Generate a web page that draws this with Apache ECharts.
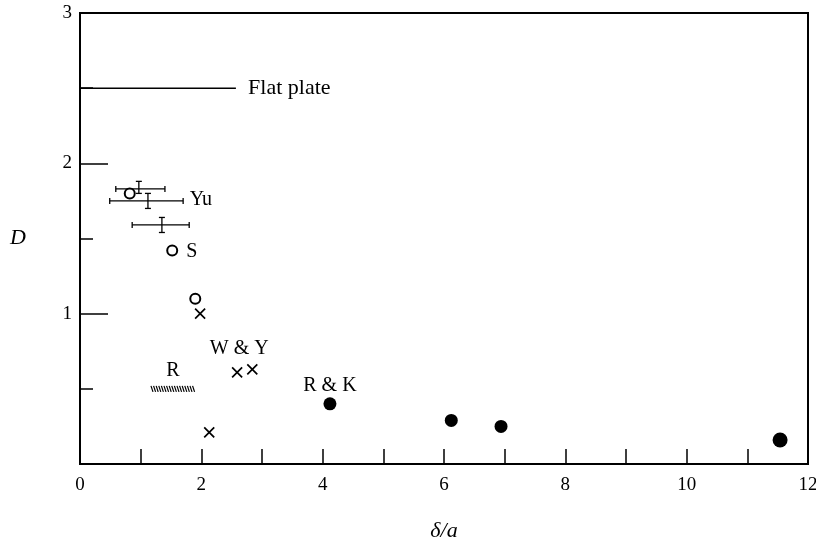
<!DOCTYPE html>
<html>
<head>
<meta charset="utf-8">
<script src="https://cdn.jsdelivr.net/npm/echarts@6/dist/echarts.min.js"></script>
<style>html,body{margin:0;padding:0;background:#fff}#c{width:816px;height:539px}</style>
</head>
<body>
<div id="c"></div>
<script>
// ---- data ----
const xTicks = [0, 2, 4, 6, 8, 10, 12];
const yTicks = [1, 2, 3];
// Yu: error-bar points [x, y, xLo, xHi, yLo, yHi]
const yuErr = [
  [0.97, 1.83, 0.59, 1.40, 1.80, 1.88],
  [1.12, 1.75, 0.49, 1.70, 1.70, 1.80],
  [1.35, 1.59, 0.86, 1.80, 1.54, 1.64]
];
// open circles
const openX = [0.82, 1.52, 1.90];
const openY = [1.80, 1.42, 1.10];
// crosses (W & Y)
const crossX = [1.98, 2.59, 2.84, 2.13];
const crossY = [1.00, 0.61, 0.63, 0.21];
// filled circles (R & K)
const filledX = [4.12, 6.12, 6.94, 11.54];
const filledY = [0.40, 0.29, 0.25, 0.16];
const filledSize = [13, 13, 13, 15];
// R hatched range [xStart, y, xEnd]
const rRange = [[1.17, 0.50, 1.90]];
// flat plate line
const flatX = [0, 2.57];
const flatY = 2.5;
// text labels [x, y, text, fontSize]
const labels = [
  [2.77, 2.50, 'Flat plate', 22],
  [1.81, 1.76, 'Yu', 20],
  [1.75, 1.41, 'S', 20],
  [2.14, 0.765, 'W & Y', 20],
  [1.42, 0.62, 'R', 20],
  [3.68, 0.52, 'R & K', 20]
];

const serif = 'Liberation Serif';
const chart = echarts.init(document.getElementById('c'), null, {renderer: 'canvas'});

const crossPath = 'path://M0,0L10,10M10,0L0,10';

chart.setOption({
  animation: false,
  backgroundColor: '#fff',
  grid: {left: 80, right: 8, top: 13, bottom: 75, outerBoundsMode: 'none', containLabel: false,
    show: true, borderColor: '#000', borderWidth: 2, backgroundColor: 'transparent'},
  xAxis: {
    type: 'value', min: 0, max: 12, interval: 1,
    name: 'δ/a', nameLocation: 'middle', nameGap: 56,
    nameTextStyle: {fontFamily: serif, fontStyle: 'italic', fontSize: 22, color: '#000'},
    axisLine: {lineStyle: {color: '#000', width: 2}},
    axisTick: {inside: true, length: 15, lineStyle: {color: '#000', width: 1.5}},
    axisLabel: {margin: 12, fontFamily: serif, fontSize: 19, color: '#000',
      formatter: v => xTicks.indexOf(v) >= 0 ? String(v) : ''},
    splitLine: {show: false}
  },
  yAxis: [{
    type: 'value', min: 0, max: 3, interval: 1,
    name: 'D', nameLocation: 'middle', nameGap: 54, nameRotate: 0,
    nameTextStyle: {fontFamily: serif, fontStyle: 'italic', fontSize: 22, color: '#000'},
    axisLine: {lineStyle: {color: '#000', width: 2}},
    axisTick: {inside: true, length: 28, lineStyle: {color: '#000', width: 1.5}},
    axisLabel: {margin: 8, fontFamily: serif, fontSize: 19, color: '#000',
      formatter: v => yTicks.indexOf(v) >= 0 ? String(v) : ''},
    splitLine: {show: false}
  }, {
    type: 'value', min: 0, max: 3, interval: 0.5, position: 'left',
    axisLine: {show: false},
    axisTick: {inside: true, length: 13, lineStyle: {color: '#000', width: 1.5}},
    axisLabel: {show: false},
    splitLine: {show: false}
  }],
  series: [
    {
      type: 'line', data: flatX.map(x => [x, flatY]), symbol: 'none',
      lineStyle: {color: '#000', width: 1.5}, silent: true
    },
    {
      type: 'custom', data: yuErr,
      renderItem: function (params, api) {
        const x = api.value(0), y = api.value(1);
        const h0 = api.coord([api.value(2), y]);
        const h1 = api.coord([api.value(3), y]);
        const v0 = api.coord([x, api.value(4)]);
        const v1 = api.coord([x, api.value(5)]);
        const st = {stroke: '#000', lineWidth: 1.3};
        const c = 3;
        const L = (x1, y1, x2, y2) => ({type: 'line', shape: {x1, y1, x2, y2}, style: st});
        return {type: 'group', children: [
          L(h0[0], h0[1], h1[0], h1[1]),
          L(h0[0], h0[1] - c, h0[0], h0[1] + c),
          L(h1[0], h1[1] - c, h1[0], h1[1] + c),
          L(v0[0], v0[1], v1[0], v1[1]),
          L(v0[0] - c, v0[1], v0[0] + c, v0[1]),
          L(v1[0] - c, v1[1], v1[0] + c, v1[1])
        ]};
      }
    },
    {
      type: 'custom', data: rRange,
      renderItem: function (params, api) {
        const y = api.value(1);
        const p0 = api.coord([api.value(0), y]);
        const p1 = api.coord([api.value(2), y]);
        const ch = [];
        for (let px = p0[0]; px <= p1[0] - 2; px += 2.6) {
          ch.push({type: 'line', shape: {x1: px, y1: p0[1] - 3, x2: px + 2, y2: p0[1] + 3},
            style: {stroke: '#000', lineWidth: 1.2}});
        }
        return {type: 'group', children: ch};
      }
    },
    {
      type: 'scatter', data: openX.map((x, i) => [x, openY[i]]),
      symbol: 'circle', symbolSize: 10,
      itemStyle: {color: '#fff', borderColor: '#000', borderWidth: 2, opacity: 1}
    },
    {
      type: 'scatter', data: crossX.map((x, i) => [x, crossY[i]]),
      symbol: crossPath, symbolSize: 10,
      itemStyle: {color: 'none', borderColor: '#000', borderWidth: 1.7, opacity: 1}
    },
    {
      type: 'scatter', data: filledX.map((x, i) => ({value: [x, filledY[i]], symbolSize: filledSize[i]})),
      symbol: 'circle',
      itemStyle: {color: '#000', opacity: 1}
    },
    {
      type: 'scatter', silent: true, symbolSize: 0,
      itemStyle: {opacity: 1},
      data: labels.map(l => ({value: [l[0], l[1]], name: l[2],
        label: {fontSize: l[3]}})),
      label: {show: true, position: [0, 0], align: 'left', verticalAlign: 'middle',
        formatter: p => p.name, fontFamily: serif, color: '#000', opacity: 1}
    }
  ]
});
</script>
</body>
</html>
